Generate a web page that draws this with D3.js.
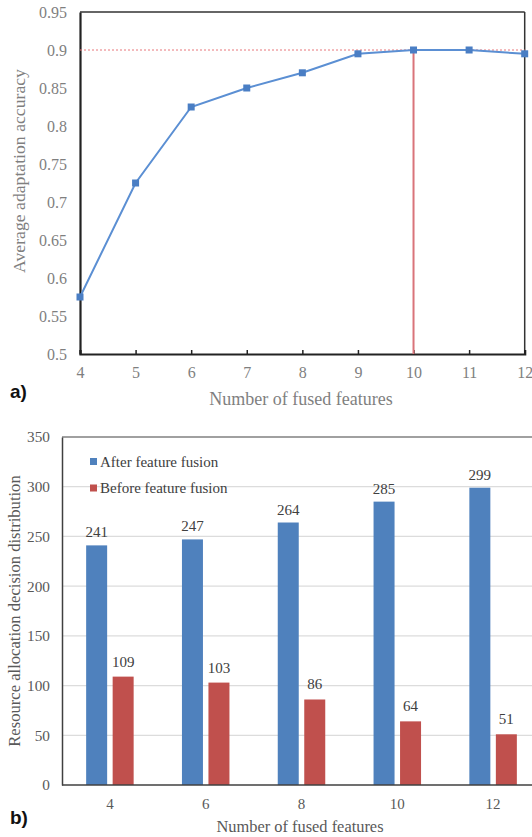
<!DOCTYPE html>
<html><head><meta charset="utf-8">
<script src="https://cdn.jsdelivr.net/npm/d3@7"></script>
<style>
html,body{margin:0;padding:0;background:#fff;}
svg text{font-family:"Liberation Serif","DejaVu Serif",serif;}
svg text.lab{font-family:"Liberation Sans",Arial,sans-serif;}
</style></head>
<body>
<svg id="c" width="532" height="837"></svg>
<script>
// Chart a data
const featuresA = [4,5,6,7,8,9,10,11,12];
const accuracy = [0.575,0.725,0.825,0.85,0.87,0.895,0.9,0.9,0.895];
const yTicksA = [0.5,0.55,0.6,0.65,0.7,0.75,0.8,0.85,0.9,0.95];
const bestFeatures = 10;
const bestAccuracy = 0.9;
// Chart b data
const featuresB = ["4","6","8","10","12"];
const afterFusion = [241,247,264,285,299];
const beforeFusion = [109,103,86,64,51];
const seriesNames = ["After feature fusion","Before feature fusion"];
const yTicksB = [0,50,100,150,200,250,300,350];

const svg = d3.select("#c");

// ---------- Chart a ----------
const a = {l:80,r:524.7,t:12,b:354};
const xA = d3.scaleLinear().domain([4,12]).range([a.l,a.r]);
const yA = d3.scaleLinear().domain([0.5,0.95]).range([a.b,a.t]);
const gA = svg.append("g");

gA.append("line").attr("x1",a.l).attr("x2",a.r).attr("y1",a.t).attr("y2",a.t).attr("stroke","#333").attr("stroke-width",1.5);
gA.append("line").attr("x1",a.r).attr("x2",a.r).attr("y1",a.t).attr("y2",a.b).attr("stroke","#333").attr("stroke-width",1.5);

const axA = gA.append("g").attr("transform",`translate(0,${a.b})`)
  .call(d3.axisBottom(xA).tickValues(featuresA).tickSize(-4).tickPadding(13).tickFormat(d3.format("d")));
axA.select(".domain").attr("stroke","#222").attr("stroke-width",2.2);
axA.selectAll(".tick line").attr("stroke","#222").attr("stroke-width",1.5);
axA.selectAll(".tick text").attr("fill","#7f7f7f").attr("font-size",16);

const ayA = gA.append("g").attr("transform",`translate(${a.l},0)`)
  .call(d3.axisLeft(yA).tickValues(yTicksA).tickSize(0).tickPadding(13).tickFormat(d=>String(+d.toFixed(2))));
ayA.select(".domain").attr("stroke","#222").attr("stroke-width",2.2);
ayA.selectAll(".tick text").attr("fill","#7f7f7f").attr("font-size",16);

gA.append("line").attr("x1",a.l).attr("x2",a.r).attr("y1",yA(bestAccuracy)).attr("y2",yA(bestAccuracy))
  .attr("stroke","#e8777a").attr("stroke-width",1).attr("stroke-dasharray","2,2");
gA.append("line").attr("x1",xA(bestFeatures)).attr("x2",xA(bestFeatures)).attr("y1",yA(bestAccuracy)).attr("y2",a.b)
  .attr("stroke","#d9747a").attr("stroke-width",2);

const line = d3.line().x((d,i)=>xA(featuresA[i])).y(d=>yA(d));
gA.append("path").datum(accuracy).attr("d",line).attr("fill","none").attr("stroke","#5b8fd3").attr("stroke-width",2);
gA.selectAll("rect.m").data(accuracy).enter().append("rect").attr("class","m")
  .attr("x",(d,i)=>xA(featuresA[i])-3.5).attr("y",d=>yA(d)-3.5).attr("width",7).attr("height",7).attr("fill","#4a7ec4");

gA.append("text").attr("x",301).attr("y",405).attr("text-anchor","middle").attr("font-size",18).attr("fill","#7f7f7f").text("Number of fused features");
gA.append("text").attr("transform",`translate(25,171) rotate(-90)`).attr("text-anchor","middle").attr("font-size",17.7).attr("fill","#7f7f7f").text("Average adaptation accuracy");
gA.append("text").attr("class","lab").attr("x",10).attr("y",398).attr("font-size",19).attr("font-weight","bold").attr("fill","#111").text("a)");

// ---------- Chart b ----------
const b = {l:62,r:541,t:437,b:785};
const xB = d3.scaleBand().domain(featuresB).range([b.l,b.r]);
const yB = d3.scaleLinear().domain([0,350]).range([b.b,b.t]);
const gB = svg.append("g");

gB.selectAll("line.g").data(yTicksB.filter(d=>d>0)).enter().append("line").attr("class","g")
  .attr("x1",b.l).attr("x2",532).attr("y1",d=>yB(d)).attr("y2",d=>yB(d))
  .attr("stroke",d=>d===350?"#808080":"#dcdcdc").attr("stroke-width",d=>d===350?1.3:1.2);

const barW = 21, gap = 5.5;
const grp = gB.selectAll("g.cat").data(featuresB).enter().append("g").attr("class","cat");
grp.append("rect").attr("x",d=>xB(d)+xB.bandwidth()/2-gap/2-barW).attr("width",barW)
  .attr("y",(d,i)=>yB(afterFusion[i])).attr("height",(d,i)=>b.b-yB(afterFusion[i])).attr("fill","#4f81bd");
grp.append("rect").attr("x",d=>xB(d)+xB.bandwidth()/2+gap/2).attr("width",barW)
  .attr("y",(d,i)=>yB(beforeFusion[i])).attr("height",(d,i)=>b.b-yB(beforeFusion[i])).attr("fill","#c0504d");
grp.append("text").attr("x",d=>xB(d)+xB.bandwidth()/2-gap/2-barW/2).attr("y",(d,i)=>yB(afterFusion[i])-8)
  .attr("text-anchor","middle").attr("font-size",15).attr("fill","#404040").text((d,i)=>afterFusion[i]);
grp.append("text").attr("x",d=>xB(d)+xB.bandwidth()/2+gap/2+barW/2).attr("y",(d,i)=>yB(beforeFusion[i])-10)
  .attr("text-anchor","middle").attr("font-size",15).attr("fill","#404040").text((d,i)=>beforeFusion[i]);

const axB = gB.append("g").attr("transform",`translate(0,${b.b})`)
  .call(d3.axisBottom(xB).tickSize(0).tickPadding(13));
axB.select(".domain").attr("stroke","#404040").attr("stroke-width",1.5).attr("d",`M${b.l},0H532`);
axB.selectAll(".tick text").attr("fill","#595959").attr("font-size",15);
const ayB = gB.append("g").attr("transform",`translate(${b.l},0)`)
  .call(d3.axisLeft(yB).tickValues(yTicksB).tickSize(0).tickPadding(12));
ayB.select(".domain").attr("stroke","#404040").attr("stroke-width",1.5);
ayB.selectAll(".tick text").attr("fill","#595959").attr("font-size",15.3);

const colors = ["#4f81bd","#c0504d"];
const lg = gB.selectAll("g.lg").data(seriesNames).enter().append("g").attr("class","lg")
  .attr("transform",(d,i)=>`translate(90,${461.5+i*26.5})`);
lg.append("rect").attr("x",0).attr("y",-3.5).attr("width",7).attr("height",7).attr("fill",(d,i)=>colors[i]);
lg.append("text").attr("x",10).attr("y",5).attr("font-size",15).attr("fill","#404040").text(d=>d);

gB.append("text").attr("x",300).attr("y",832).attr("text-anchor","middle").attr("font-size",16.4).attr("fill","#595959").text("Number of fused features");
gB.append("text").attr("transform",`translate(20,611) rotate(-90)`).attr("text-anchor","middle").attr("font-size",16.6).attr("fill","#595959").text("Resource allocation decision distribution");
gB.append("text").attr("class","lab").attr("x",10).attr("y",824).attr("font-size",19).attr("font-weight","bold").attr("fill","#111").text("b)");
</script>
</body></html>
